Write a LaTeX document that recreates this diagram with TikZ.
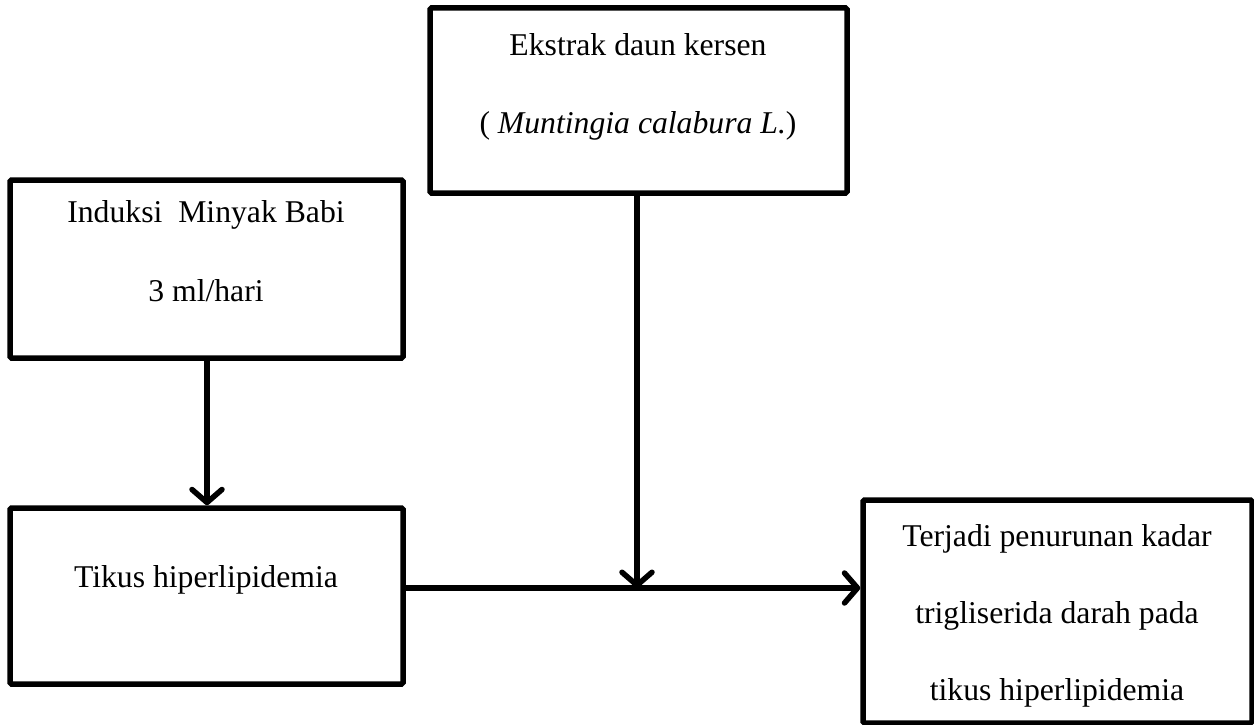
\documentclass[tikz,border=0pt]{standalone}
\usepackage{fontspec}
\setmainfont{Liberation Serif}
\usetikzlibrary{arrows.meta}
\begin{document}
\begin{tikzpicture}[x=1pt,y=-1pt,
  box/.style={draw=black,line width=5.5pt,rounded corners=1.5pt,inner sep=0pt,fill=white},
  txt/.style={anchor=base,inner sep=0pt,font=\fontsize{31.7}{38}\selectfont},
  arr/.style={line width=5.5pt,-{Straight Barb[length=13pt,width=30pt,round]}}]
\useasboundingbox (0,0) rectangle (1254,725);
\node[box,minimum width=393pt,minimum height=178pt] (A) at (206.5,269) {};
\node[box,minimum width=417pt,minimum height=185pt] (B) at (638.5,100.5) {};
\node[box,minimum width=393pt,minimum height=176pt] (C) at (206.5,596) {};
\node[box,minimum width=389pt,minimum height=223pt] (D) at (1057.5,611.5) {};
\node[txt] (a1) at (206,222) {Induksi\ \ Minyak Babi};
\node[txt] (a2) at (206,301) {3 ml/hari};
\node[txt] (b1) at (638,56) {Ekstrak daun kersen};
\node[txt] (b2) at (638,133) {( \textit{Muntingia calabura L.})};
\node[txt] (c1) at (206,587) {Tikus hiperlipidemia};
\node[txt] (d1) at (1057,546) {Terjadi penurunan kadar};
\node[txt] (d2) at (1057,623) {trigliserida darah pada};
\node[txt] (d3) at (1057,700) {tikus hiperlipidemia};
\coordinate (J) at (637,588);
\draw[arr] (A.south -| 207,0) -- (C.north -| 207,0);
\draw[arr] (C.east |- J) -- (D.west |- J);
\draw[arr] (B.south -| J) -- (J);
\end{tikzpicture}
\end{document}
